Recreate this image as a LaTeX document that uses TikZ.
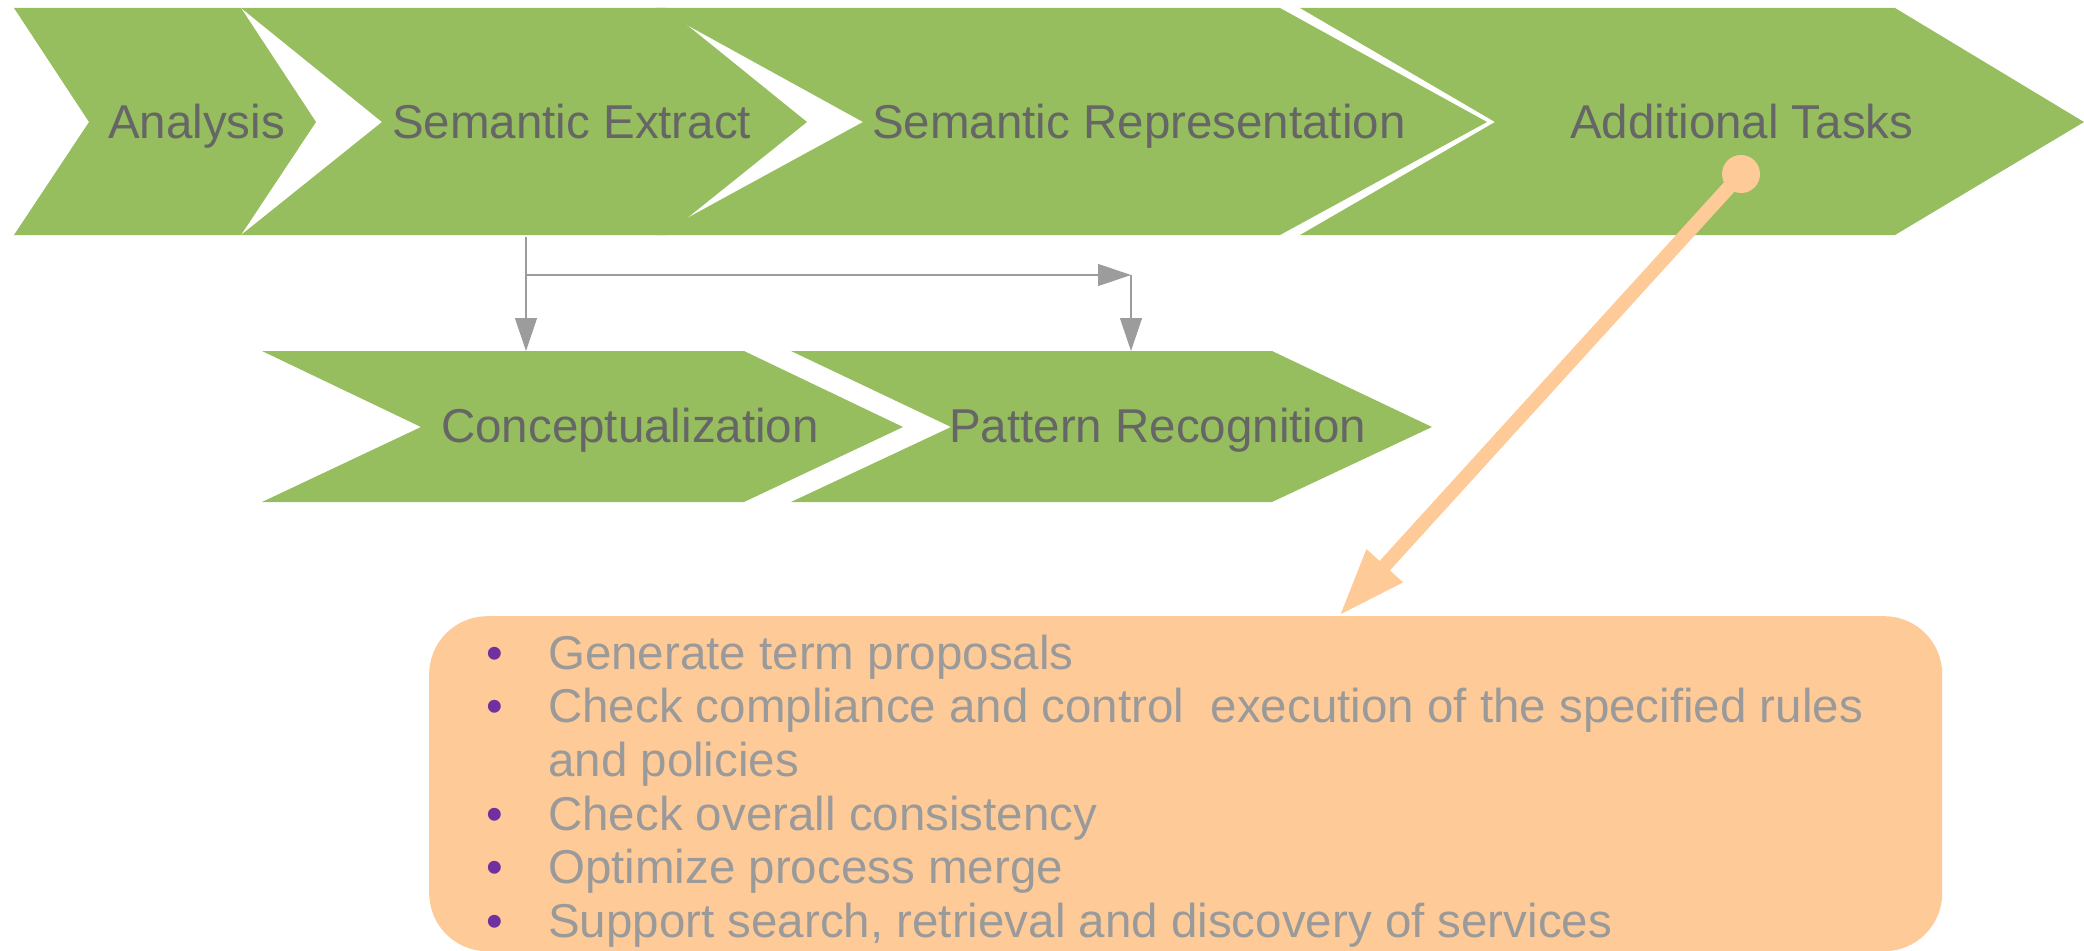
\documentclass[tikz,border=0pt]{standalone}
\usepackage{fontspec}
\setmainfont{Liberation Sans}
\usetikzlibrary{arrows.meta}
\definecolor{chev}{HTML}{96BE5F}
\definecolor{lbltext}{HTML}{666666}
\definecolor{conngrey}{HTML}{9C9C9C}
\definecolor{calloutc}{HTML}{FECB98}
\definecolor{itemgrey}{HTML}{9A9A9A}
\definecolor{bulpurple}{HTML}{7030A0}
\begin{document}
\begin{tikzpicture}[x=1pt,y=-1pt,
  chevron/.style={fill=chev,draw=none},
  bigfont/.style={font=\fontsize{47.5}{57}\selectfont},
  lbl/.style={bigfont,anchor=base west,inner sep=0,text=lbltext},
  itm/.style={bigfont,anchor=base west,inner sep=0,text=itemgrey},
  bul/.style={bigfont,anchor=base,inner sep=0,text=bulpurple},
  conn/.style={draw=conngrey,line width=1.2pt,-{Triangle[length=33pt,width=22pt]}},
  callout/.style={draw=calloutc,line width=14pt,-{Triangle[length=68pt,width=45pt]}}]
\useasboundingbox (0,0) rectangle (2084,950);
% top row chevrons
\fill[chevron] (14,8) -- (241,8) -- (316,122) -- (241,235) -- (14,235) -- (89,122) -- cycle;
\fill[chevron] (656,8) -- (1280,8) -- (1487,122) -- (1280,235) -- (656,235) -- (863,122) -- cycle;
\fill[chevron] (241,8) -- (666,8) -- (807,122) -- (666,235) -- (241,235) -- (382,122) -- cycle;
\fill[chevron] (1300,8) -- (1895,8) -- (2084,122) -- (1895,235) -- (1300,235) -- (1495,122) -- cycle;
% second row chevrons
\fill[chevron] (262,351) -- (744,351) -- (903,427) -- (744,502) -- (262,502) -- (421,427) -- cycle;
\fill[chevron] (791,351) -- (1272,351) -- (1432,427) -- (1272,502) -- (791,502) -- (951,427) -- cycle;
% labels
\node[lbl] (analysis) at (108,138) {Analysis};
\node[lbl] (extract) at (392,138) {Semantic Extract};
\node[lbl] (repr) at (872,138) {Semantic Representation};
\node[lbl] (tasks) at (1570,138) {Additional Tasks};
\node[lbl] (concept) at (441,442) {Conceptualization};
\node[lbl] (pattern) at (949,442) {Pattern Recognition};
% grey connectors
\coordinate (seb) at (526,237);
\coordinate (cnt) at (526,351);
\coordinate (brk) at (526,275);
\coordinate (hr) at (1131,275);
\coordinate (prt) at (1131,351);
\draw[conn] (seb) -- (cnt);
\draw[conn] (brk) -- (hr);
\draw[conn] (hr) -- (prt);
% orange box
\node[fill=calloutc,draw=none,rounded corners=58pt,minimum width=1513pt,minimum height=335pt,anchor=north west,inner sep=0] (box) at (429,616) {};
\node[bul] (b1) at (495,669) {•};
\node[bul] (b2) at (495,722) {•};
\node[bul] (b4) at (495,830) {•};
\node[bul] (b5) at (495,883) {•};
\node[bul] (b6) at (495,937) {•};
\node[itm] (t1) at (548,669) {Generate term proposals};
\node[itm] (t2) at (548,722) {Check compliance and control\ \ execution of the specified rules};
\node[itm] (t3) at (548,776) {and policies};
\node[itm] (t4) at (548,830) {Check overall consistency};
\node[itm] (t5) at (548,883) {Optimize process merge};
\node[itm] (t6) at (548,937) {Support search, retrieval and discovery of services};
% orange callout arrow
\node[circle,fill=calloutc,minimum size=38pt,inner sep=0] (dot) at (1741,174) {};
\coordinate (boxtip) at (1339,616);
\draw[callout] (dot.center) -- (boxtip);
\end{tikzpicture}
\end{document}
